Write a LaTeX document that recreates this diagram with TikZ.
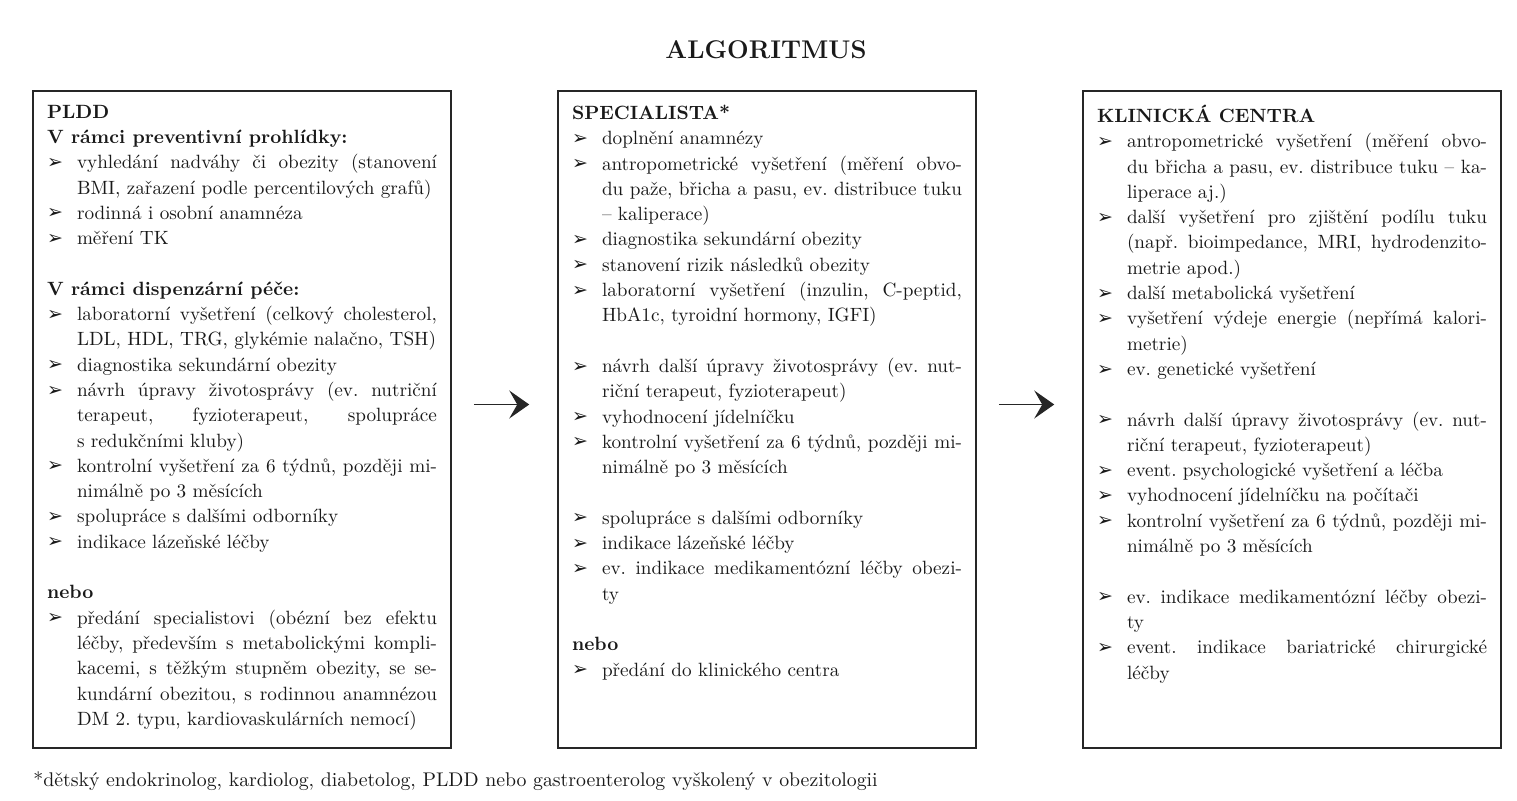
\documentclass[tikz,border=0pt]{standalone}
\usepackage{fontspec}
\newfontfamily\markfont{DejaVu Sans}
\usetikzlibrary{arrows.meta,positioning}

\newcommand{\itm}{\par\hangindent=15pt\hangafter=1\noindent\makebox[15pt][l]{\raisebox{0.2pt}{\markfont\fontsize{9.5}{9.5}\selectfont ➢}}}
\newcommand{\hd}[1]{\par\noindent\textbf{#1}}
\newcommand{\gap}{\par\vspace{\baselineskip}}
\newcommand{\boxtext}[1]{\parbox[c][314.5pt][t]{195pt}{\fontsize{9.6}{12.65}\selectfont\frenchspacing
  \hyphenpenalty=10000\tolerance=9999\emergencystretch=4pt #1}}

\begin{document}
\begin{tikzpicture}[x=0.5pt,y=-0.5pt]
  \tikzset{
    stage box/.style={draw=black!85, line width=0.75pt, inner xsep=7pt, inner ysep=7pt,
      minimum width=209pt, minimum height=328.5pt, text=black!90},
    flow arrow/.style={draw=black!85, line width=0.6pt, -{Stealth[length=10pt,width=14pt,inset=4pt]}}
  }
  \useasboundingbox (0,0) rectangle (1517,800);

  \node [text=black!90] (title) at (766,50) {\fontsize{12.8}{15}\selectfont\bfseries ALGORITMUS};

  \node [stage box] (pldd) at (242,419.5) {\boxtext{%
    \hd{PLDD}
    \hd{V rámci preventivní prohlídky:}
    \itm vyhledání nadváhy či obezity (stanovení\linebreak BMI, zařazení podle percentilových grafů)
    \itm rodinná i osobní anamnéza
    \itm měření TK
    \gap
    \hd{V rámci dispenzární péče:}
    \itm laboratorní vyšetření (celkový cholesterol,\linebreak LDL, HDL, TRG, glykémie nalačno, TSH)
    \itm diagnostika sekundární obezity
    \itm návrh úpravy životosprávy (ev. nutriční\linebreak terapeut, fyzioterapeut, spolupráce\linebreak s redukčními kluby)
    \itm kontrolní vyšetření za 6 týdnů, později mi-\linebreak nimálně po 3 měsících
    \itm spolupráce s dalšími odborníky
    \itm indikace lázeňské léčby
    \gap
    \hd{nebo}
    \itm předání specialistovi (obézní bez efektu\linebreak léčby, především s metabolickými kompli-\linebreak kacemi, s těžkým stupněm obezity, se se-\linebreak kundární obezitou, s rodinnou anamnézou\linebreak DM 2. typu, kardiovaskulárních nemocí)}};

  \node [stage box] (spec) at (767,419.5) {\boxtext{%
    \hd{SPECIALISTA*}
    \itm doplnění anamnézy
    \itm antropometrické vyšetření (měření obvo-\linebreak du paže, břicha a pasu, ev. distribuce tuku\linebreak – kaliperace)
    \itm diagnostika sekundární obezity
    \itm stanovení rizik následků obezity
    \itm laboratorní vyšetření (inzulin, C-peptid,\linebreak HbA1c, tyroidní hormony, IGFI)
    \gap
    \itm návrh další úpravy životosprávy (ev. nut-\linebreak riční terapeut, fyzioterapeut)
    \itm vyhodnocení jídelníčku
    \itm kontrolní vyšetření za 6 týdnů, později mi-\linebreak nimálně po 3 měsících
    \gap
    \itm spolupráce s dalšími odborníky
    \itm indikace lázeňské léčby
    \itm ev. indikace medikamentózní léčby obezi-\linebreak ty
    \gap
    \hd{nebo}
    \itm předání do klinického centra}};

  \node [stage box] (centra) at (1292,419.5) {\boxtext{%
    \hd{KLINICKÁ CENTRA}
    \itm antropometrické vyšetření (měření obvo-\linebreak du břicha a pasu, ev. distribuce tuku – ka-\linebreak liperace aj.)
    \itm další vyšetření pro zjištění podílu tuku\linebreak (např. bioimpedance, MRI, hydrodenzito-\linebreak metrie apod.)
    \itm další metabolická vyšetření
    \itm vyšetření výdeje energie (nepřímá kalori-\linebreak metrie)
    \itm ev. genetické vyšetření
    \gap
    \itm návrh další úpravy životosprávy (ev. nut-\linebreak riční terapeut, fyzioterapeut)
    \itm event. psychologické vyšetření a léčba
    \itm vyhodnocení jídelníčku na počítači
    \itm kontrolní vyšetření za 6 týdnů, později mi-\linebreak nimálně po 3 měsících
    \gap
    \itm ev. indikace medikamentózní léčby obezi-\linebreak ty
    \itm event. indikace bariatrické chirurgické\linebreak léčby}};

  \draw [flow arrow] ([shift={(11pt,7.5pt)}]pldd.east) -- ([shift={(-14pt,7.5pt)}]spec.west);
  \draw [flow arrow] ([shift={(11pt,7.5pt)}]spec.east) -- ([shift={(-14pt,7.5pt)}]centra.west);

  \node [anchor=west, inner sep=0pt, text=black!90] (note) at (33,781)
    {\fontsize{9.9}{11}\selectfont *dětský endokrinolog, kardiolog, diabetolog, PLDD nebo gastroenterolog vyškolený v obezitologii};
\end{tikzpicture}
\end{document}
